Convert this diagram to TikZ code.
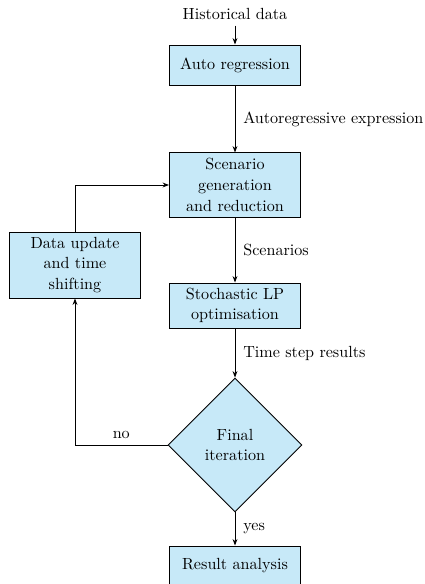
\documentclass[tikz,border=0pt]{standalone}
\usetikzlibrary{shapes.geometric,arrows.meta}
\definecolor{boxfill}{RGB}{199,233,248}
\begin{document}
\begin{tikzpicture}[x=0.62pt,y=-0.62pt,
  font=\fontsize{10}{12.8}\selectfont,
  every path/.style={line width=0.6pt},
  >={Stealth[length=4pt,width=3pt]},
  flowbox/.style={draw=black, fill=boxfill, rectangle, align=center,
    minimum width=81.2pt, inner sep=2pt},
  decision/.style={draw=black, fill=boxfill, diamond, align=center,
    minimum width=83pt, minimum height=83pt, inner sep=0pt},
  lbl/.style={right, xshift=1.5pt}]
\useasboundingbox (0,0) rectangle (424,584);

\node (hist) at (235,14) {Historical data};
\node[flowbox, minimum height=24.8pt] (auto) at (235,65) {Auto regression};
\node[flowbox, minimum height=39.7pt] (scen) at (235,185) {Scenario\\generation\\and reduction};
\node[flowbox, minimum height=40.9pt, minimum width=81.8pt] (data) at (75,265) {Data update\\and time\\shifting};
\node[flowbox, minimum height=27.9pt] (stoch) at (235,305.5) {Stochastic LP\\optimisation};
\node[decision] (final) at (235,445) {Final\\iteration};
\node[flowbox, minimum height=24.8pt] (result) at (235,566) {Result analysis};

\draw[->] (hist) -- (auto);
\draw[->] (auto) -- node[lbl] {Autoregressive expression} (scen);
\draw[->] (scen) -- node[lbl] {Scenarios} (stoch);
\draw[->] (stoch) -- node[lbl] {Time step results} (final);
\draw[->] (final) -- node[lbl] {yes} (result);
\draw[->] (final.west) -- node[above] {no} (data.south |- final.west) -- (data.south);
\draw[->] (data.north) |- (scen.west);
\end{tikzpicture}
\end{document}
